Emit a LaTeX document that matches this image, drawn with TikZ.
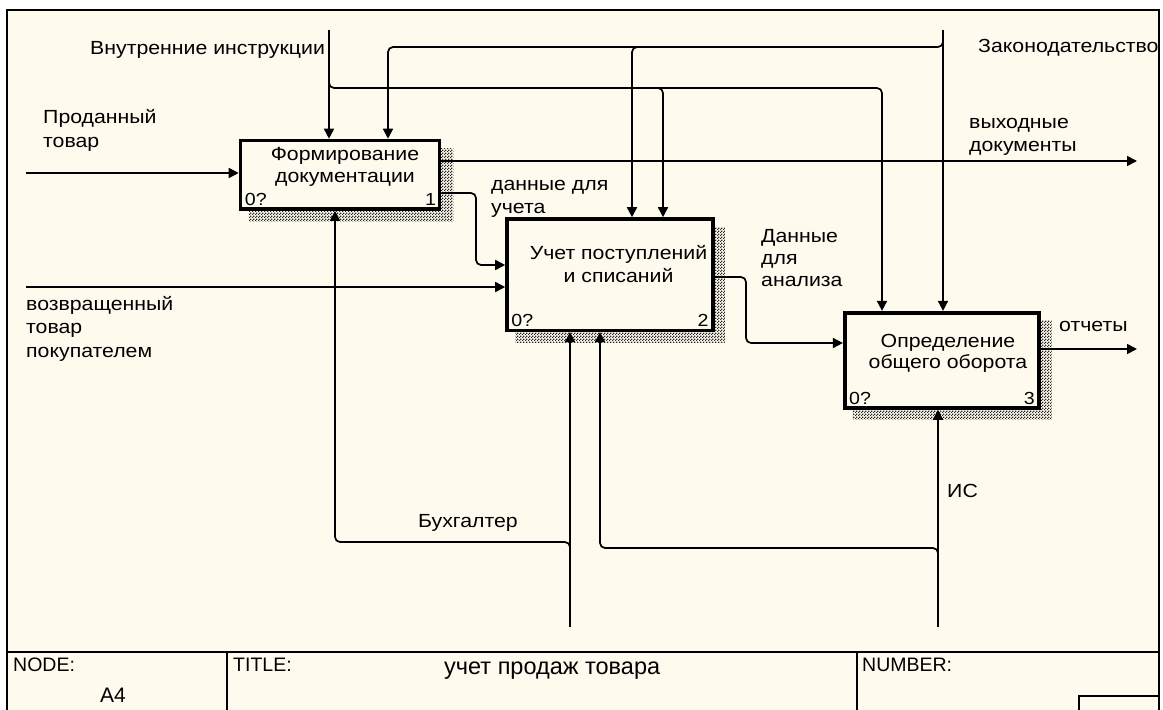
\documentclass[tikz,border=0pt]{standalone}
\usepackage{fontspec}
\setmainfont{Liberation Sans}
\newfontfamily\widefont[FakeStretch=1.12]{Liberation Sans}
\usetikzlibrary{arrows.meta,patterns,calc}
\definecolor{paper}{RGB}{255,250,238}
\pgfdeclarelayer{back}
\pgfsetlayers{back,main}
\pgfdeclarepatternformonly{idefcheck}{\pgfpointorigin}{\pgfpoint{3pt}{3pt}}{\pgfpoint{3pt}{3pt}}{%
  \pgfpathrectangle{\pgfpointorigin}{\pgfpoint{1.5pt}{1.5pt}}%
  \pgfpathrectangle{\pgfpoint{1.5pt}{1.5pt}}{\pgfpoint{1.5pt}{1.5pt}}%
  \pgfusepath{fill}}
\begin{document}
\begin{tikzpicture}[x=1pt,y=-1pt,
  lbl/.style={font=\widefont\fontsize{19}{22}\selectfont, inner sep=0, anchor=base west},
  ctr/.style={font=\widefont\fontsize{19}{22}\selectfont, inner sep=0, anchor=base},
  num/.style={font=\widefont\fontsize{17.5}{20}\selectfont, inner sep=0},
  ft/.style={font=\fontsize{19.5}{22}\selectfont, inner sep=0, anchor=base west},
  act/.style={draw, line width=3.6pt, fill=paper, rectangle, inner sep=0},
  conn/.style={line width=1.7pt, rounded corners=5pt},
  arr/.style={conn, -{Triangle[length=10pt,width=10pt]}},
  shade/.style={pattern=idefcheck, pattern color=black!85},
  frame/.style={line width=2pt}
]
\useasboundingbox (0,0) rectangle (1163,710);

% activity boxes
\node[act, minimum width=199pt, minimum height=68.5pt] (b1) at (340,174.75) {};
\node[act, minimum width=206pt, minimum height=111.3pt] (b2) at (610,274.65) {};
\node[act, minimum width=194pt, minimum height=95.3pt] (b3) at (941.7,360.35) {};

\begin{pgfonlayer}{back}
  \fill[white] (0,0) rectangle (1163,710);
  \fill[paper] (7,10) rectangle (1159,712);
  \fill[shade] ([shift={(10,10)}]b1.north west) rectangle ([shift={(12,11)}]b1.south east);
  \fill[shade] ([shift={(10,10)}]b2.north west) rectangle ([shift={(10,10)}]b2.south east);
  \fill[shade] ([shift={(10,10)}]b3.north west) rectangle ([shift={(11,10)}]b3.south east);
\end{pgfonlayer}

% frame and footer
\draw[frame] (7,714) -- (7,10) -- (1159,10) -- (1159,714);
\draw[frame] (7,652) -- (1159,652);
\draw[frame] (227,652) -- (227,714);
\draw[frame] (857,652) -- (857,714);
\draw[frame] (1079,714) -- (1079,696) -- (1159,696);
\node[ft] (fnode) at (13,671) {NODE:};
\node[ft] (ftitle) at (233,671) {TITLE:};
\node[ft] (fnum) at (862,671) {NUMBER:};
\node[font=\fontsize{21}{24}\selectfont, inner sep=0, anchor=base west] (fa4) at (100,702) {A4};
\node[font=\fontsize{23.5}{26}\selectfont, inner sep=0, anchor=base west] (ftt) at (444,674) {учет продаж товара};

% box texts
\node[ctr] (t1a) at (345,160) {Формирование};
\node[ctr] (t1b) at (345,182) {документации};
\node[ctr] (t2a) at (618.5,259) {Учет поступлений};
\node[ctr] (t2b) at (618.5,282) {и списаний};
\node[ctr] (t3a) at (948,347) {Определение};
\node[ctr] (t3b) at (948,368) {общего оборота};
\node[num, anchor=base west] (n1a) at ([shift={(6,-5.5)}]b1.south west) {0?};
\node[num, anchor=base east] (n1b) at ([shift={(-5,-5.5)}]b1.south east) {1};
\node[num, anchor=base west] (n2a) at ([shift={(6,-5.5)}]b2.south west) {0?};
\node[num, anchor=base east] (n2b) at ([shift={(-6,-5.5)}]b2.south east) {2};
\node[num, anchor=base west] (n3a) at ([shift={(6,-5.5)}]b3.south west) {0?};
\node[num, anchor=base east] (n3b) at ([shift={(-5.5,-5.5)}]b3.south east) {3};

% coordinates
\coordinate (ii) at (329,30);
\coordinate (iij) at (329,82);
\coordinate (iic) at (882,88);
\coordinate (iib) at (663,88);
\coordinate (iibs) at (650,88);
\coordinate (zk) at (943,30);
\coordinate (zkj) at (943,41);
\coordinate (zkc) at (388,47);
\coordinate (zkb) at (632,47);
\coordinate (zkbs) at (642,47);
\coordinate (pt) at (26,173);
\coordinate (vd) at (1137,161);
\coordinate (c1) at (476,193);
\coordinate (d1) at (476,265);
\coordinate (vt) at (26,287);
\coordinate (e1) at (746,277);
\coordinate (e2) at (746,343);
\coordinate (ot) at (1137,349);
\coordinate (bk) at (570,627);
\coordinate (bkj) at (570,549);
\coordinate (bkl) at (335,542);
\coordinate (is) at (938,627);
\coordinate (isj) at (938,555);
\coordinate (isl) at (600,548);

% controls
\draw[arr] (ii) -- (ii |- b1.north);
\draw[arr] (iij) -- (329,88) -- (iic) -- (iic |- b3.north);
\draw[arr] (iibs) -- (iib) -- (iib |- b2.north);
\draw[arr] (zk) -- (zk |- b3.north);
\draw[arr] (zkj) -- (943,47) -- (zkc) -- (zkc |- b1.north);
\draw[arr] (zkbs) -- (zkb) -- (zkb |- b2.north);

% inputs and outputs
\draw[arr] (pt) -- (pt -| b1.west);
\draw[arr] (b1.east |- vd) -- (vd);
\draw[arr] (b1.east |- c1) -- (c1) -- (d1) -- (d1 -| b2.west);
\draw[arr] (vt) -- (vt -| b2.west);
\draw[arr] (b2.east |- e1) -- (e1) -- (e2) -- (e2 -| b3.west);
\draw[arr] (b3.east |- ot) -- (ot);

% mechanisms
\draw[arr] (bk) -- (bk |- b2.south);
\draw[arr] (bkj) -- (570,542) -- (bkl) -- (bkl |- b1.south);
\draw[arr] (is) -- (is |- b3.south);
\draw[arr] (isj) -- (938,548) -- (isl) -- (isl |- b2.south);

% labels
\node[lbl] (l1) at (90,54) {Внутренние инструкции};
\node[lbl] (l2) at (978,52) {Законодательство};
\node[lbl] (l3a) at (43,123) {Проданный};
\node[lbl] (l3b) at (43,147) {товар};
\node[lbl] (l4a) at (969,128) {выходные};
\node[lbl] (l4b) at (969,151) {документы};
\node[lbl] (l5a) at (491,190) {данные для};
\node[lbl] (l5b) at (491,213) {учета};
\node[lbl] (l6a) at (761,242) {Данные};
\node[lbl] (l6b) at (761,264) {для};
\node[lbl] (l6c) at (761,286) {анализа};
\node[lbl] (l7a) at (26,310) {возвращенный};
\node[lbl] (l7b) at (26,333) {товар};
\node[lbl] (l7c) at (26,357) {покупателем};
\node[lbl] (l8) at (1059,331) {отчеты};
\node[lbl] (l9) at (418,527) {Бухгалтер};
\node[lbl] (l10) at (947,497) {ИС};
\end{tikzpicture}
\end{document}
